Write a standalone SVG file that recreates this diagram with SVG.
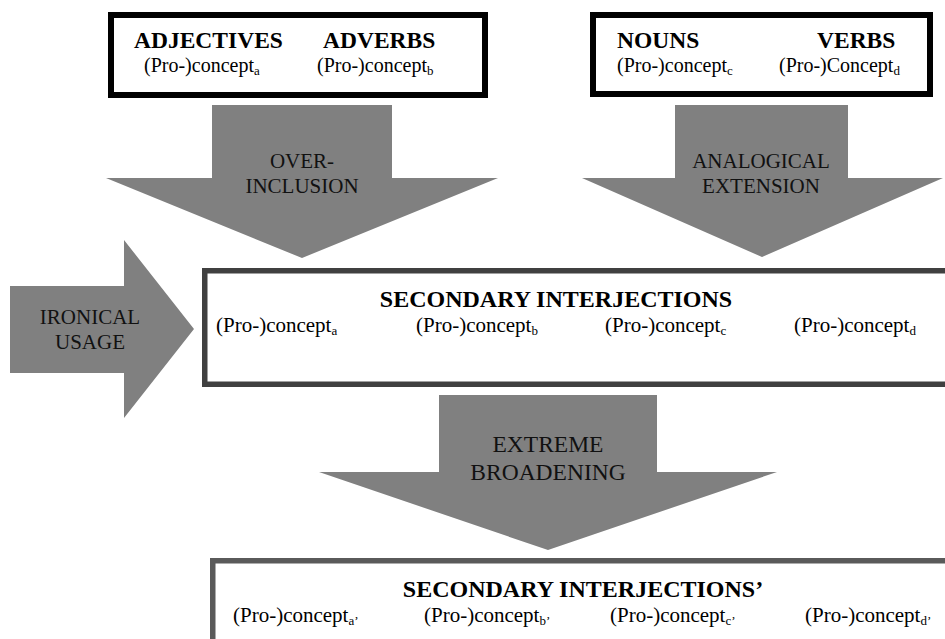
<svg xmlns="http://www.w3.org/2000/svg" width="945" height="639" viewBox="0 0 945 639" font-family="'Liberation Serif', 'Times New Roman', serif">
<style>
text{font-family:'Liberation Serif','Times New Roman',serif}
.arrow{fill:#808080;stroke:none}
.lbl{font-size:21px;fill:#111;text-anchor:middle}
.big{font-size:23.5px}
.hd{font-weight:bold;font-size:23.5px;fill:#000}
.ttl{font-weight:bold;font-size:24px;fill:#000;text-anchor:middle}
.cp{font-size:20px;fill:#000}
.cp2{font-size:21px}
.sub{font-size:13px}
.topbox{fill:#fff;stroke:#000;stroke-width:6}
.midbox{fill:#fff;stroke:#404040;stroke-width:5.5}
.botbox{fill:#fff;stroke:#5a5a5a;stroke-width:5.5}
</style>
<rect width="945" height="639" fill="#fff"/>
<g id="connectors">
  <g id="arrow-overinclusion">
    <polygon class="arrow" points="212,105 392,105 392,178 498,178 302,258 106,178 212,178"/>
    <text class="lbl" x="302" y="168">OVER-</text>
    <text class="lbl" x="302" y="193">INCLUSION</text>
  </g>
  <g id="arrow-analogical">
    <polygon class="arrow" points="675,105 848,105 848,178 943,178 762,257 582,178 675,178"/>
    <text class="lbl" x="761" y="168">ANALOGICAL</text>
    <text class="lbl" x="761" y="193">EXTENSION</text>
  </g>
  <g id="arrow-ironical">
    <polygon class="arrow" points="10,286 124,286 124,240 194,329 124,418 124,373 10,373"/>
    <text class="lbl" x="90" y="324">IRONICAL</text>
    <text class="lbl" x="90" y="349">USAGE</text>
  </g>
  <g id="arrow-extreme">
    <polygon class="arrow" points="439,395 657,395 657,472 777,472 548,550 319,472 439,472"/>
    <text class="lbl big" x="548" y="452">EXTREME</text>
    <text class="lbl big" x="548" y="480">BROADENING</text>
  </g>
</g>
<g id="node-adj-adv">
  <rect class="topbox" x="111" y="15" width="374" height="80"/>
  <text class="hd" x="134" y="48">ADJECTIVES</text>
  <text class="hd" x="323" y="48">ADVERBS</text>
  <text class="cp" x="144" y="72">(Pro-)concept<tspan class="sub" dy="3">a</tspan></text>
  <text class="cp" x="317" y="72">(Pro-)concept<tspan class="sub" dy="3">b</tspan></text>
</g>
<g id="node-nouns-verbs">
  <rect class="topbox" x="593" y="15" width="337" height="79"/>
  <text class="hd" x="617" y="48">NOUNS</text>
  <text class="hd" x="817" y="48">VERBS</text>
  <text class="cp" x="617" y="72">(Pro-)concept<tspan class="sub" dy="3">c</tspan></text>
  <text class="cp" x="779" y="72">(Pro-)Concept<tspan class="sub" dy="3">d</tspan></text>
</g>
<g id="node-secondary">
  <rect class="midbox" x="204.75" y="270.75" width="760" height="113.5"/>
  <text class="ttl" x="556" y="307">SECONDARY INTERJECTIONS</text>
  <text class="cp cp2" x="216" y="332">(Pro-)concept<tspan class="sub" dy="3">a</tspan></text>
  <text class="cp cp2" x="416" y="332">(Pro-)concept<tspan class="sub" dy="3">b</tspan></text>
  <text class="cp cp2" x="605" y="332">(Pro-)concept<tspan class="sub" dy="3">c</tspan></text>
  <text class="cp cp2" x="794" y="332">(Pro-)concept<tspan class="sub" dy="3">d</tspan></text>
</g>
<g id="node-secondary-prime">
  <rect class="botbox" x="212.75" y="560.75" width="760" height="120"/>
  <text class="ttl" x="583" y="597">SECONDARY INTERJECTIONS’</text>
  <text class="cp cp2" x="233" y="622">(Pro-)concept<tspan class="sub" dy="3">a’</tspan></text>
  <text class="cp cp2" x="424" y="622">(Pro-)concept<tspan class="sub" dy="3">b’</tspan></text>
  <text class="cp cp2" x="610" y="622">(Pro-)concept<tspan class="sub" dy="3">c’</tspan></text>
  <text class="cp cp2" x="805" y="622">(Pro-)concept<tspan class="sub" dy="3">d’</tspan></text>
</g>
</svg>
